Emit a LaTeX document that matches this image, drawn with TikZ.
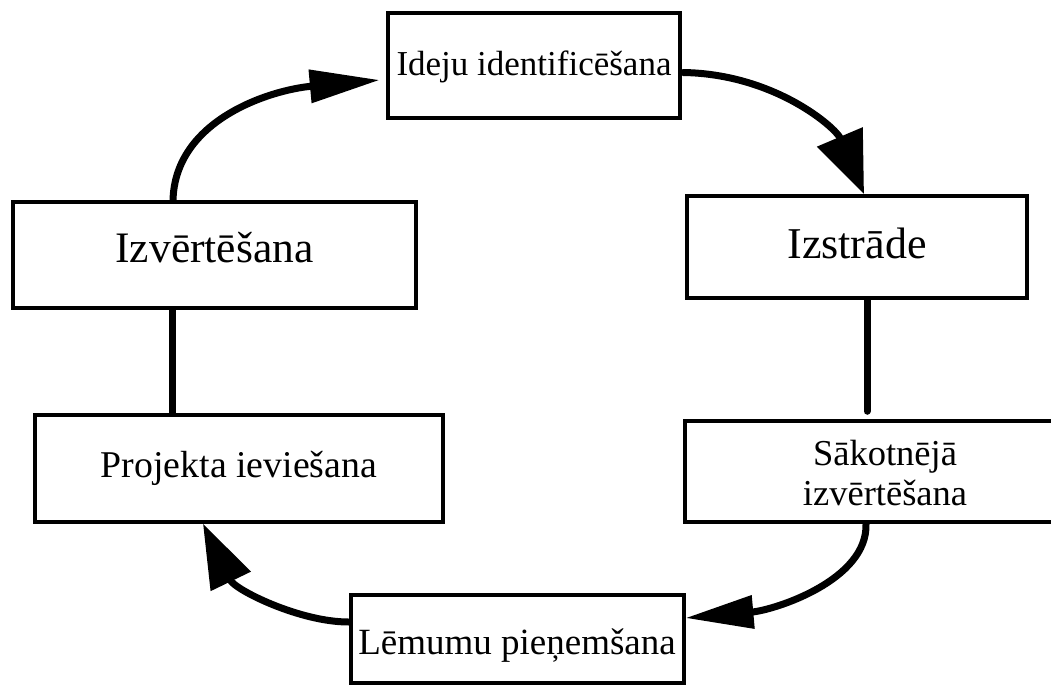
\documentclass[tikz,border=0pt]{standalone}
\usepackage{fontspec}
\setmainfont{Liberation Serif}
\usetikzlibrary{arrows.meta,calc}
\begin{document}
\begin{tikzpicture}[x=1pt,y=-1pt,
  box/.style={draw=black,line width=3.5pt,inner sep=0pt,rectangle,fill=white,text depth=0pt},
  link/.style={line width=7pt,line cap=round},
  flow/.style={line width=7pt,line cap=round}]
\useasboundingbox[fill=white] (0,0) rectangle (1051,685);
\node[box,line width=4.5pt,minimum width=292pt,minimum height=105pt,
  font=\fontsize{35}{40}\selectfont,text height=19pt] (ideju) at (534,65.5) {Ideju identificēšana};
\node[box,line width=4pt,minimum width=340pt,minimum height=102pt,
  font=\fontsize{44}{50}\selectfont,text height=22pt] (izstrade) at (857,247) {Izstrāde};
\node[box,minimum width=400pt,minimum height=101pt,
  font=\fontsize{36.5}{40}\selectfont,text height=0pt,text depth=13pt] (sakot) at (885,471.5)
  {\begin{tabular}[t]{@{}c@{}}Sākotnējā\\izvērtēšana\end{tabular}};
\node[box,line width=4pt,minimum width=333pt,minimum height=88pt,
  font=\fontsize{37}{42}\selectfont,text height=30pt] (lemumu) at (517,639) {Lēmumu pieņemšana};
\node[box,minimum width=408pt,minimum height=107pt,
  font=\fontsize{37.8}{42}\selectfont,text height=17pt] (projekta) at (239,468.5) {Projekta ieviešana};
\node[box,minimum width=403pt,minimum height=106pt,
  font=\fontsize{43.5}{48}\selectfont,text height=14pt] (izvert) at (214.5,255) {Izvērtēšana};

\draw[flow,-{Triangle[length=62pt,width=48pt]}] ($(ideju.east)+(1,7)$)
  .. controls (775,74) and (836,128) .. ($(izstrade.north)+(7,0)$);
\draw[link] ($(izstrade.south)+(10,0)$) -- ($(sakot.north)+(-18,-8)$);
\draw[flow,-{Triangle[length=68pt,width=32pt]}] ($(sakot.south)+(-19,0)$)
  .. controls (868,580) and (775,610) .. ($(lemumu.east)+(0,-21)$);
\draw[flow,-{Triangle[length=64pt,width=43pt]}] ($(lemumu.west)+(0,-17)$)
  .. controls (300,622) and (235,590) .. ($(projekta.south)+(-36,0)$);
\draw[link] ($(izvert.south)+(-42.5,0)$) -- ($(projekta.north)+(-67,0)$);
\draw[flow,-{Triangle[length=70pt,width=32pt]}] ($(izvert.north)+(-41.5,0)$)
  .. controls (175,120) and (270,90) .. ($(ideju.west)+(-6,14.5)$);
\end{tikzpicture}
\end{document}
